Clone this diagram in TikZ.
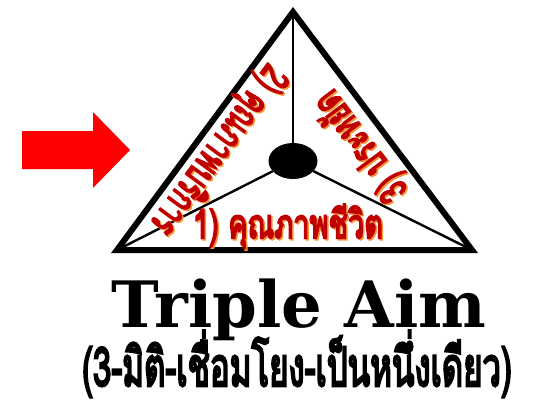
\documentclass[tikz,border=0pt]{standalone}
\usepackage{fontspec}
\usetikzlibrary{shapes.geometric}
\newfontfamily\thaifont[Script=Thai,FakeBold=5]{Loma}
\newfontfamily\slabfont{DejaVu Serif}
\definecolor{aimred}{RGB}{192,0,0}
\definecolor{aimglow}{RGB}{246,150,60}
\definecolor{pointred}{RGB}{255,0,0}
\newcommand\squeeze[2][0.66]{\scalebox{#1}[1]{#2}}
\tikzset{
  rim/.style={draw=black,line width=6pt,line join=miter},
  spoke/.style={draw=black,line width=2.4pt},
  hub/.style={ellipse,fill=black,minimum width=49pt,minimum height=36pt,inner sep=0pt},
  aim/.style={text=aimred,font=\thaifont\fontsize{40}{40}\selectfont,inner sep=0pt,anchor=base},
  aimglow/.style={aim,text=aimglow},
  headline/.style={font=\slabfont\bfseries\fontsize{64}{64}\selectfont,inner sep=0pt,anchor=base},
  subline/.style={font=\thaifont\fontsize{54}{54}\selectfont,inner sep=0pt,anchor=base},
}

\begin{document}
\begin{tikzpicture}[x=1pt,y=-1pt]
  \useasboundingbox (0,0) rectangle (538,404);
  % pointer
  \fill[pointred] (22,131) -- (93,131) -- (93,112) -- (130,150) -- (93,188) -- (93,169) -- (22,169) -- cycle;
  % triangle
  \coordinate (apex) at (293,12);
  \coordinate (lcorner) at (117,250);
  \coordinate (rcorner) at (472,250);
  \node[hub] (hub) at (293,161) {};
  \draw[spoke] (hub) -- (apex);
  \draw[spoke] (hub) -- (lcorner);
  \draw[spoke] (hub) -- (rcorner);
  \draw[rim] (apex) -- (lcorner) -- (rcorner) -- cycle;
  % labels with glow
  \node[aimglow] at (289.5,239.5) {\squeeze[0.72]{1) คุณภาพชีวิต}};
  \node[aim] (life) at (288,238) {\squeeze[0.72]{1) คุณภาพชีวิต}};
  \node[aimglow,rotate=233.5] at (210.4,144.3) {\squeeze{2) คุณภาพบริการ}};
  \node[aim,rotate=233.5] (care) at (208.9,142.8) {\squeeze{2) คุณภาพบริการ}};
  \node[aimglow,rotate=126.6] at (372.1,140.1) {\squeeze{3) ประหยัด}};
  \node[aim,rotate=126.6] (cost) at (370.6,138.6) {\squeeze{3) ประหยัด}};
  % titles
  \node[headline] (title) at (299,327) {Triple Aim};
  \node[subline] (subtitle) at (297,386) {\squeeze[0.61]{(3-มิติ-เชื่อมโยง-เป็นหนึ่งเดียว)}};
\end{tikzpicture}
\end{document}
